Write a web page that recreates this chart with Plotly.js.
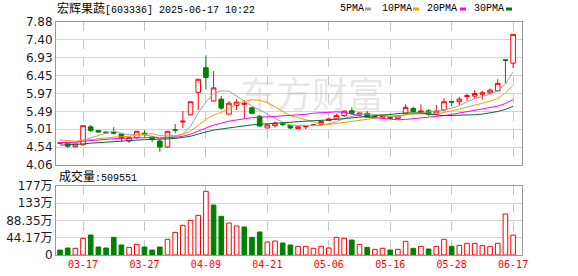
<!DOCTYPE html>
<html><head><meta charset="utf-8">
<script src="https://cdn.plot.ly/plotly-3.0.1.min.js"></script>
<style>html,body{margin:0;padding:0;background:#fff}#chart{width:578px;height:276px}</style>
</head><body><div id="chart"></div>
<script>
const dates = ['03-12','03-13','03-14','03-17','03-18','03-19','03-20','03-21','03-24','03-25',
  '03-26','03-27','03-28','03-31','04-01','04-02','04-03','04-07','04-08','04-09',
  '04-10','04-11','04-14','04-15','04-16','04-17','04-18','04-21','04-22','04-23',
  '04-24','04-25','04-28','04-29','04-30','05-06','05-07','05-08','05-09','05-12',
  '05-13','05-14','05-15','05-16','05-19','05-20','05-21','05-22','05-23','05-26',
  '05-27','05-28','05-29','05-30','06-03','06-04','06-05','06-06','06-16','06-17'];
const opens = [4.64,4.65,4.55,4.60,5.08,4.98,4.94,4.93,4.89,4.70,
  4.79,4.91,4.81,4.70,4.54,5.00,5.21,5.40,6.00,6.66,
  5.77,5.82,5.42,5.65,5.68,5.59,5.36,5.05,5.11,5.16,
  5.12,5.03,5.08,5.12,5.15,5.25,5.29,5.38,5.51,5.40,
  5.44,5.36,5.32,5.33,5.30,5.43,5.57,5.48,5.51,5.42,
  5.53,5.76,5.75,5.89,5.90,5.95,5.99,6.04,6.87,6.78];
const highs = [4.66,4.66,4.63,5.12,5.13,4.99,4.96,5.07,4.90,4.80,
  4.97,4.99,4.84,4.74,4.97,5.15,5.50,5.76,6.36,6.99,
  6.57,5.90,5.77,5.82,5.79,5.60,5.40,5.15,5.22,5.20,
  5.14,5.10,5.13,5.16,5.24,5.30,5.42,5.52,5.60,5.46,
  5.50,5.38,5.40,5.34,5.39,5.68,5.62,5.68,5.55,5.66,
  5.84,5.76,5.88,5.97,6.06,6.04,6.10,6.35,6.87,7.55];
const lows = [4.63,4.52,4.53,4.58,4.94,4.92,4.90,4.88,4.68,4.65,
  4.77,4.82,4.67,4.41,4.52,4.91,5.05,5.39,5.53,6.08,
  5.76,5.53,5.41,5.53,5.31,5.42,5.08,5.04,5.06,5.10,
  5.02,5.02,5.02,5.10,5.13,5.24,5.28,5.34,5.40,5.37,
  5.32,5.32,5.30,5.30,5.29,5.42,5.48,5.43,5.37,5.40,
  5.52,5.63,5.66,5.77,5.82,5.82,5.95,6.03,6.23,6.65];
const closes = [4.65,4.56,4.62,5.11,4.98,4.94,4.92,4.91,4.78,4.79,
  4.96,4.87,4.74,4.54,4.96,4.99,5.23,5.75,6.35,6.40,
  6.12,5.58,5.71,5.74,5.70,5.44,5.10,5.13,5.18,5.14,
  5.05,5.08,5.09,5.13,5.22,5.29,5.38,5.50,5.44,5.45,
  5.34,5.35,5.38,5.31,5.37,5.60,5.49,5.50,5.41,5.50,
  5.75,5.74,5.82,5.91,5.97,5.99,6.06,6.24,6.86,7.55];
const volumes = [128000,179000,171000,427000,512000,205000,179000,452000,256000,196000,
  273000,205000,128000,205000,401000,580000,759000,887000,1015000,1630000,
  1280000,990000,819000,743000,717000,452000,589000,333000,358000,307000,
  256000,222000,222000,171000,222000,179000,452000,427000,384000,273000,
  196000,145000,171000,128000,145000,350000,171000,222000,154000,222000,
  401000,222000,247000,299000,299000,239000,222000,299000,1050000,509551];
// closes before the visible window, estimated from where the MA lines start
const priorCloses = [4.40,4.42,4.45,4.43,4.47,4.46,4.44,4.48,4.47,4.48,
  4.50,4.53,4.55,4.58,4.60,4.62,4.61,4.63,4.65,4.63,
  4.72,4.80,4.86,4.83,4.79,4.62,4.66,4.68,4.68];
const tickDates = ['03-17','03-27','04-09','04-21','05-06','05-16','05-28','06-17'];
const priceTickLabels = ['4.06','4.54','5.01','5.49','5.97','6.45','6.93','7.40','7.88'];
const volTickLabels = ['0','44.17万','88.35万','133万','177万'];
const volTickValues = [0,441700,883500,1325000,1767000];
const maPeriods = [5,10,20,30];
const maNames = ['5PMA','10PMA','20PMA','30PMA'];
const stockTitle = '宏辉果蔬';
const stockCode = '[603336] 2025-06-17 10:22';

const RED = '#ff0000', GREEN = '#008000';
const maColors = ['#a0a0a0','#f0a000','#ff00ff','#006f2e'];

// pixel helpers (plot area: x 56..522, y 22..255)
const L = 56, R = 522, T = 22, B = 255, W = 578, H = 276;
const px = x => (x - L) / (R - L);
const py = y => (B - y) / (B - T);

const allCloses = priorCloses.concat(closes);
const P = priorCloses.length;
const maTraces = maPeriods.map((n, k) => {
  const y = closes.map((_, i) => {
    let s = 0;
    for (let j = i + P - n + 1; j <= i + P; j++) s += allCloses[j];
    return s / n;
  });
  return {type:'scatter', mode:'lines', x:dates, y:y, xaxis:'x2', yaxis:'y',
    line:{color:maColors[k], width:1}, hoverinfo:'skip', showlegend:false};
});

const candle = {type:'candlestick', x:dates, open:opens, high:highs, low:lows, close:closes,
  xaxis:'x2', yaxis:'y', hoverinfo:'skip', showlegend:false, whiskerwidth:0,
  increasing:{line:{color:RED, width:1}, fillcolor:'#ffffff'},
  decreasing:{line:{color:GREEN, width:1}, fillcolor:GREEN}};

const volUp = volumes.map((_, i) => allCloses[i + P] >= allCloses[i + P - 1]);
const volBar = {type:'bar', x:dates, y:volumes, xaxis:'x', yaxis:'y2', width:0.6,
  marker:{color:volUp.map(u => u ? '#ffffff' : GREEN),
    line:{color:volUp.map(u => u ? RED : GREEN), width:1}},
  hoverinfo:'skip', showlegend:false};

const pMin = parseFloat(priceTickLabels[0]), pMax = parseFloat(priceTickLabels[priceTickLabels.length-1]);
const priceTickVals = priceTickLabels.map((_, k) => pMin + k * (pMax - pMin) / (priceTickLabels.length - 1));

const xBase = {type:'category', range:[-0.52, 60.16], tickvals:tickDates, ticktext:tickDates,
  showgrid:true, gridcolor:'#c8c8c8', griddash:'dash', gridwidth:1,
  showline:true, linecolor:'#999999', linewidth:1, mirror:true, ticks:'',
  fixedrange:true, rangeslider:{visible:false}, zeroline:false};

const annotations = [
  {xref:'paper', yref:'paper', x:px(55), y:py(9), xanchor:'left', yanchor:'middle', showarrow:false,
   text:'<span style="font-size:12px">' + stockTitle + '</span>' + stockCode,
   font:{family:'Liberation Mono, Noto Sans CJK SC', size:10, color:'#000'}},
  {xref:'paper', yref:'paper', x:px(57), y:py(177), xanchor:'left', yanchor:'middle', showarrow:false,
   text:'<span style="font-size:12px">成交量</span>:' + volumes[volumes.length-1],
   font:{family:'Liberation Mono, Noto Sans CJK SC', size:10, color:'#000'}},
  {xref:'paper', yref:'paper', x:px(312), y:py(92), xanchor:'center', yanchor:'middle', showarrow:false,
   text:'东方财富', font:{family:'Noto Sans CJK SC', size:36, color:'rgba(170,170,170,0.3)'}}
];
const legendX = [338, 380, 425, 472];
const squareX = [365, 413, 460, 506];
const shapes = [];
maNames.forEach((nm, k) => {
  annotations.push({xref:'paper', yref:'paper', x:px(legendX[k]), y:py(9), xanchor:'left', yanchor:'middle',
    showarrow:false, text:nm, font:{family:'Liberation Mono', size:10, color:'#000'}});
  shapes.push({type:'rect', xref:'paper', yref:'paper', x0:px(squareX[k]), x1:px(squareX[k]+6),
    y0:py(10.5), y1:py(7.5), fillcolor:maColors[k], line:{width:0}});
});

const layout = {
  width:W, height:H, margin:{l:L, r:W-R, t:T, b:H-B}, paper_bgcolor:'#fff', plot_bgcolor:'#fff',
  showlegend:false, hovermode:false, boxgap:0.4, boxgroupgap:0,
  xaxis:Object.assign({}, xBase, {anchor:'y2', showticklabels:true,
    tickfont:{family:'DejaVu Sans Mono', size:10, color:RED}}),
  xaxis2:Object.assign({}, xBase, {anchor:'y', matches:'x', showticklabels:false}),
  yaxis:{domain:[py(165), 1], range:[pMin, pMax], tickvals:priceTickVals, ticktext:priceTickLabels,
    showgrid:true, gridcolor:'#d4d4d4', showline:true, linecolor:'#999999', mirror:true, ticks:'',
    zeroline:false, fixedrange:true, tickfont:{family:'DejaVu Sans', size:12, color:'#1a1a2a'}},
  yaxis2:{domain:[0, py(186)], range:[0, volTickValues[volTickValues.length-1]], tickvals:volTickValues,
    ticktext:volTickLabels, showgrid:true, gridcolor:'#d4d4d4', showline:true, linecolor:'#999999',
    mirror:true, ticks:'', zeroline:false, fixedrange:true,
    tickfont:{family:'DejaVu Sans, Noto Sans CJK SC', size:12, color:'#1a1a2a'}},
  annotations:annotations, shapes:shapes
};

Plotly.newPlot('chart', [volBar].concat(maTraces).concat([candle]), layout, {staticPlot:true, displayModeBar:false});
</script></body></html>
